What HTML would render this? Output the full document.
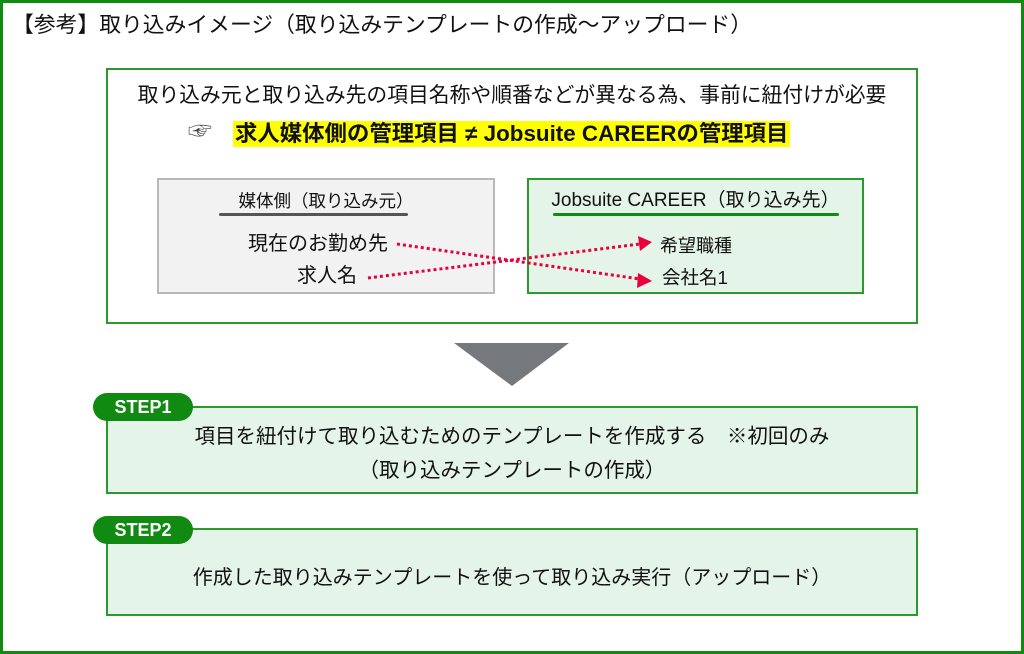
<!DOCTYPE html>
<html><head><meta charset="utf-8"><style>
*{margin:0;padding:0;box-sizing:border-box}
body{width:1024px;height:654px;position:relative;background:#fff;font-family:"Liberation Sans","Noto Sans CJK JP",sans-serif;color:#111;overflow:hidden}
.a{position:absolute;white-space:nowrap}
.c{text-align:center}
</style></head><body>
<div class="a" style="left:0;top:0;width:1024px;height:654px;border:3px solid #108a10"></div>
<div class="a" style="left:12px;top:11px;font-size:21.8px;line-height:28px">【参考】取り込みイメージ（取り込みテンプレートの作成～アップロード）</div>

<div class="a" style="left:106px;top:68px;width:812px;height:256px;border:2px solid #2a9a2a;background:#fff"></div>
<div class="a c" style="left:106px;width:812px;top:82px;font-size:20.8px;line-height:28px">取り込み元と取り込み先の項目名称や順番などが異なる為、事前に紐付けが必要</div>
<div class="a" style="left:188px;top:119px;font-size:24px;line-height:26px;color:#444">☞</div>
<div class="a" style="left:233px;top:121px;height:26px;padding:0 2px;background:#ffff00;font-size:22.4px;line-height:26px;font-weight:bold">求人媒体側の管理項目 ≠ Jobsuite CAREERの管理項目</div>

<div class="a" style="left:157px;top:178px;width:338px;height:116px;background:#f2f2f2;border:2px solid #b8b8b8"></div>
<div class="a c" style="left:157px;width:338px;top:189px;font-size:17.5px;line-height:24px">媒体側（取り込み元）</div>
<div class="a" style="left:219px;top:213px;width:189px;height:3px;background:#555;border-radius:2px"></div>
<div class="a" style="left:248px;top:231px;font-size:20px;line-height:26px">現在のお勤め先</div>
<div class="a" style="left:297px;top:263px;font-size:20px;line-height:26px">求人名</div>

<div class="a" style="left:527px;top:178px;width:337px;height:116px;background:#e5f4e8;border:2px solid #2a9a2a"></div>
<div class="a c" style="left:527px;width:337px;top:189px;font-size:19px;line-height:24px">Jobsuite CAREER（取り込み先）</div>
<div class="a" style="left:553px;top:213px;width:286px;height:3px;background:#108a10;border-radius:2px"></div>
<div class="a" style="left:660px;top:233px;font-size:18px;line-height:26px">希望職種</div>
<div class="a" style="left:662px;top:265px;font-size:18.5px;line-height:26px">会社名1</div>

<svg class="a" style="left:0;top:0" width="1024" height="654">
<g stroke="#e8003a" stroke-width="3" stroke-dasharray="3,3" fill="none">
<line x1="397" y1="244" x2="640" y2="279"/>
<line x1="368" y1="278" x2="640" y2="244"/>
</g>
<polygon points="652,281 638,273 637,288" fill="#e8003a"/>
<polygon points="652,242 638,236 640,251" fill="#e8003a"/>
<polygon points="454,343 569,343 512,386" fill="#76797b"/>
</svg>

<div class="a" style="left:106px;top:406px;width:812px;height:88px;background:#e5f4e8;border:2px solid #2a9a2a"></div>
<div class="a c" style="left:93px;top:393px;width:100px;height:28px;background:#108a10;border-radius:14px;color:#fff;font-size:18px;line-height:28px;font-weight:bold">STEP1</div>
<div class="a c" style="left:106px;width:812px;top:423px;font-size:20.5px;line-height:28px">項目を紐付けて取り込むためのテンプレートを作成する　※初回のみ</div>
<div class="a c" style="left:106px;width:812px;top:457px;font-size:20.5px;line-height:28px">（取り込みテンプレートの作成）</div>

<div class="a" style="left:106px;top:528px;width:812px;height:88px;background:#e5f4e8;border:2px solid #2a9a2a"></div>
<div class="a c" style="left:93px;top:516px;width:100px;height:28px;background:#108a10;border-radius:14px;color:#fff;font-size:18px;line-height:28px;font-weight:bold">STEP2</div>
<div class="a c" style="left:106px;width:812px;top:564px;font-size:20px;line-height:28px">作成した取り込みテンプレートを使って取り込み実行（アップロード）</div>
</body></html>
